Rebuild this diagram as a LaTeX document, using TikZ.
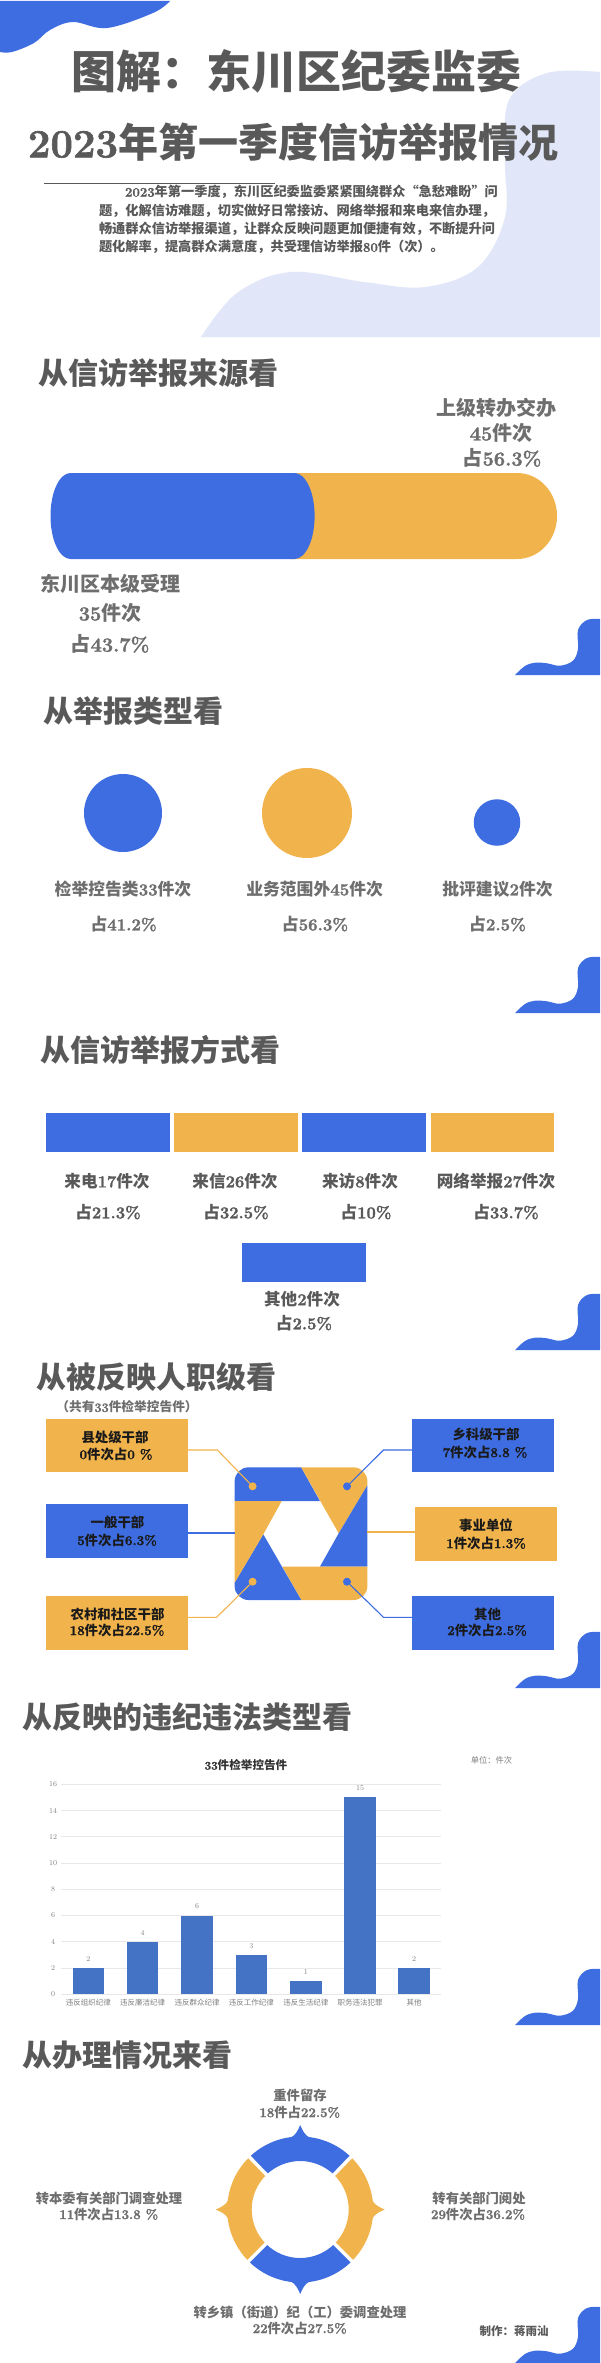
\documentclass[tikz,border=0pt]{standalone}
\usepackage{fontspec}
\newfontfamily\cjk{Noto Sans CJK SC}
\newfontfamily\numf[BoldFeatures={FakeBold=1.6}]{Latin Modern Roman}
\newcommand\D[1]{{\numf\bfseries #1}}
\newcommand\fs[1]{\fontsize{#1}{#1}\selectfont\cjk\bfseries}
\newcommand\fr[1]{\fontsize{#1}{#1}\selectfont\cjk}
\definecolor{bluec}{HTML}{3D6DE0}
\definecolor{orangec}{HTML}{F1B44C}
\definecolor{lightc}{HTML}{E1E7F9}
\definecolor{darkt}{HTML}{595959}
\definecolor{midt}{HTML}{6E6E6E}
\definecolor{barc}{HTML}{4472C4}
\definecolor{gridc}{HTML}{E8E8E8}
\definecolor{axt}{HTML}{808080}
\definecolor{boxt}{HTML}{1A1A1A}
\tikzset{
  base/.style={inner sep=0pt,outer sep=0pt,anchor=center},
  head/.style={base,font=\fs{30},text=darkt},
  lab/.style={base,font=\fs{20},text=midt},
  labs/.style={base,font=\fs{16.8},text=midt},
  labd/.style={base,font=\fs{16.6},text=darkt},
  boxlab/.style={base,font=\fs{13.4},text=boxt},
  ringlab/.style={base,font=\fs{13.3},text=midt},
  tick/.style={base,font=\fr{7.5},text=axt},
  ablock/.style={base,minimum width=123.5pt,minimum height=39pt},
  cbox/.style={base,minimum width=142pt,minimum height=54pt},
  dot/.style={base,circle,minimum size=8pt},
  conn/.style={line width=1.1pt},
}
\newcommand\cornerblob[1]{%
  \fill[bluec,shift={(515,#1)}] plot[smooth,tension=0.6] coordinates {(0,0) (10,-9) (20,-12.3) (32,-11.7) (45,-9.3) (58,-14.3) (63,-26.3) (63,-45) (72,-55) (85,-56)} -- (85,0) -- cycle;}
\begin{document}
\begin{tikzpicture}[x=1pt,y=-1pt]
\useasboundingbox (0,0) rectangle (600,2363);
\fill[white] (0,0) rectangle (600,2363);
% background shapes
\fill[lightc] plot[smooth,tension=0.6] coordinates {(201,337) (237,293) (291,272) (364,282) (425,287) (478,267) (505,217) (505,160) (509,100) (547,73) (600,72)} -- (600,337) -- cycle;
\fill[bluec] plot[smooth,tension=0.6] coordinates {(170,1) (153,13) (107,28) (73,22) (50,30) (34,43) (12,52) (0,52)} -- (0,1) -- cycle;
\cornerblob{675}
\cornerblob{1013}
\cornerblob{1350}
\cornerblob{1688}
\cornerblob{2025}
\cornerblob{2363}
% title
\node[base,font=\fs{45},text=darkt] (t1) at (296,71) {图解：东川区纪委监委};
\node[base,font=\fs{40},text=darkt] (t2) at (293,142) {\D{2023}年第一季度信访举报情况};
\draw[darkt,line width=0.9pt] (44,183) -- (275,183);
\node[base,anchor=west,align=left,text=darkt,font=\fontsize{13.2}{18.35}\selectfont\cjk\bfseries] (intro) at (99,219.5) {\hspace*{26pt}\D{2023}年第一季度，东川区纪委监委紧紧围绕群众“急愁难盼”问\\题，化解信访难题，切实做好日常接访、网络举报和来电来信办理，\\畅通群众信访举报渠道，让群众反映问题更加便捷有效，不断提升问\\题化解率，提高群众满意度，共受理信访举报\D{80}件（次）。};
% section 1
\node[head] (h1) at (158,373) {从信访举报来源看};
\fill[orangec] (290,473) -- (517,473) .. controls (539,473) and (557,492) .. (557,516) .. controls (557,540) and (539,559) .. (517,559) -- (290,559) -- cycle;
\fill[bluec] (70.5,473) -- (294.6,473) .. controls (305.6,473) and (314.6,492) .. (314.6,516) .. controls (314.6,540) and (305.6,559) .. (294.6,559) -- (70.5,559) .. controls (59.5,559) and (50.5,540) .. (50.5,516) .. controls (50.5,492) and (59.5,473) .. (70.5,473) -- cycle;
\node[lab] (s1a) at (496,408) {上级转办交办};
\node[lab] (s1b) at (501,433) {\D{45}件次};
\node[lab] (s1c) at (502,458) {占\D{56.3\%}};
\node[lab] (s1d) at (110.5,584) {东川区本级受理};
\node[lab] (s1e) at (110,613) {\D{35}件次};
\node[lab] (s1f) at (110,644) {占\D{43.7\%}};
% section 2
\node[head] (h2) at (133,711) {从举报类型看};
\node[base,circle,fill=bluec,minimum size=78pt] (c1) at (123,813) {};
\node[base,circle,fill=orangec,minimum size=90pt] (c2) at (307,813) {};
\node[base,circle,fill=bluec,minimum size=46.5pt] (c3) at (497,822.5) {};
\node[labs] (s2a) at (123,889) {检举控告类\D{33}件次};
\node[labs] (s2b) at (314.6,889) {业务范围外\D{45}件次};
\node[labs] (s2c) at (497.5,889) {批评建议\D{2}件次};
\node[labs] (s2d) at (123.6,924) {占\D{41.2\%}};
\node[labs] (s2e) at (315,924) {占\D{56.3\%}};
\node[labs] (s2f) at (497.5,924) {占\D{2.5\%}};
% section 3
\node[head] (h3) at (160,1050) {从信访举报方式看};
\node[ablock,fill=bluec] (m1) at (107.75,1132.5) {};
\node[ablock,fill=orangec] (m2) at (236.1,1132.5) {};
\node[ablock,fill=bluec] (m3) at (363.75,1132.5) {};
\node[ablock,fill=orangec] (m4) at (492.25,1132.5) {};
\node[ablock,fill=bluec] (m5) at (304,1262.5) {};
\node[labd] (s3a) at (107,1181) {来电\D{17}件次};
\node[labd] (s3b) at (235,1181) {来信\D{26}件次};
\node[labd] (s3c) at (360,1181) {来访\D{8}件次};
\node[labd] (s3d) at (496,1181) {网络举报\D{27}件次};
\node[labd] (s3e) at (108,1212) {占\D{21.3\%}};
\node[labd] (s3f) at (236,1212) {占\D{32.5\%}};
\node[labd] (s3g) at (366,1212) {占\D{10\%}};
\node[labd] (s3h) at (506,1212) {占\D{33.7\%}};
\node[labd] (s3i) at (302,1299) {其他\D{2}件次};
\node[labd] (s3j) at (304,1323) {占\D{2.5\%}};
% section 4
\node[head] (h4) at (156,1377) {从被反映人职级看};
\node[base,font=\fs{12.7},text=midt] (h4s) at (127,1407) {（共有\D{33}件检举控告件）};
\node[cbox,fill=orangec,minimum height=53pt] (lb1) at (117,1445.5) {};
\node[cbox,fill=bluec] (lb2) at (117,1531) {};
\node[cbox,fill=orangec] (lb3) at (117,1623) {};
\node[cbox,fill=bluec,minimum height=53pt] (rb1) at (483,1445.5) {};
\node[cbox,fill=orangec] (rb2) at (485.75,1534) {};
\node[cbox,fill=bluec] (rb3) at (483,1623) {};
\node[boxlab] (b1a) at (115,1437) {县处级干部};
\node[boxlab] (b1b) at (116,1454) {\D{0}件次占\D{0 \%}};
\node[boxlab] (b2a) at (117.5,1522) {一般干部};
\node[boxlab] (b2b) at (117,1540) {\D{5}件次占\D{6.3\%}};
\node[boxlab] (b3a) at (117.5,1614) {农村和社区干部};
\node[boxlab] (b3b) at (117,1630) {\D{18}件次占\D{22.5\%}};
\node[boxlab] (b4a) at (486,1434) {乡科级干部};
\node[boxlab] (b4b) at (485,1452) {\D{7}件次占\D{8.8 \%}};
\node[boxlab] (b5a) at (486,1525) {事业单位};
\node[boxlab] (b5b) at (486,1543) {\D{1}件次占\D{1.3\%}};
\node[boxlab] (b6a) at (487.5,1614) {其他};
\node[boxlab] (b6b) at (487,1630) {\D{2}件次占\D{2.5\%}};
\begin{scope}
\clip[rounded corners=14pt] (234.6,1467.3) rectangle (367.4,1600);
\fill[bluec] (234.6,1467.3) -- (301.2,1467.3) -- (319.9,1501) -- (234.6,1501) -- cycle;
\fill[orangec] (301.2,1467.3) -- (367.4,1467.3) -- (367.4,1485.3) -- (338.7,1533.3) -- cycle;
\fill[bluec] (367.4,1485.3) -- (367.4,1566.7) -- (319.9,1566.7) -- (338.7,1533.3) -- cycle;
\fill[orangec] (367.4,1566.7) -- (367.4,1600) -- (301.2,1600) -- (282.4,1566.7) -- cycle;
\fill[bluec] (301.2,1600) -- (234.6,1600) -- (234.6,1582.7) -- (263.3,1534.3) -- cycle;
\fill[orangec] (234.6,1501) -- (281.7,1501) -- (263.3,1534.3) -- (234.6,1582.7) -- cycle;
\end{scope}
\node[dot,fill=orangec] (d1) at (252.6,1486.3) {};
\node[dot,fill=bluec] (d2) at (347,1486.3) {};
\node[dot,fill=orangec] (d3) at (252.6,1581.7) {};
\node[dot,fill=bluec] (d4) at (347,1581.7) {};
\coordinate (e1) at (217.4,1450);
\coordinate (e2) at (383.5,1450);
\coordinate (e3) at (216.6,1617.3);
\coordinate (e4) at (383.5,1617.3);
\coordinate (w1) at (234.6,1533);
\coordinate (w2) at (367.4,1532);
\draw[conn,orangec] (lb1.east |- e1) -- (e1) -- (d1);
\draw[conn,bluec] (rb1.west |- e2) -- (e2) -- (d2);
\draw[conn,orangec] (lb3.east |- e3) -- (e3) -- (d3);
\draw[conn,bluec] (rb3.west |- e4) -- (e4) -- (d4);
\draw[conn,bluec] (lb2.east |- w1) -- (w1);
\draw[conn,orangec] (w2) -- (rb2.west |- w2);
% section 5
\node[head] (h5) at (188,1717) {从反映的违纪违法类型看};
\node[base,font=\fs{11.6},text=black!80] (ct) at (246,1765) {\D{33}件检举控告件};
\node[base,font=\fr{8.3},text=axt] (unit) at (491.5,1760) {单位：件次};
\foreach \v in {0,2,...,16}{
  \pgfmathsetmacro\yy{1994.3-\v*13.125}
  \draw[gridc,line width=0.9pt] (61,\yy) -- (441,\yy);
  \node[tick,font=\rmfamily\fontsize{7.5}{7.5}\selectfont] (yt\v) at (53,\yy) {\v};
}
\foreach \n/\xx/\val/\txt in {1/88.4/2/违反组织纪律,2/142.7/4/违反廉洁纪律,3/197/6/违反群众纪律,4/251.4/3/违反工作纪律,5/305.8/1/违反生活纪律,6/360/15/职务违法犯罪,7/414/2/其他}{
  \pgfmathsetmacro\yy{1994.3-\val*13.125}
  \pgfmathsetmacro\yt{\yy-9}
  \fill[barc] (\xx-15.7,\yy) rectangle (\xx+15.7,1994.3);
  \node[tick,font=\rmfamily\fontsize{7.5}{7.5}\selectfont] (bv\n) at (\xx,\yt) {\val};
  \node[tick] (bl\n) at (\xx,2003) {\txt};
}
% section 6
\node[head] (h6) at (128,2055) {从办理情况来看};
\begin{scope}[shift={(300.2,2209.5)},y=1pt]
\foreach \ang/\col in {0/bluec,90/orangec,180/bluec,270/orangec}{
  \begin{scope}[rotate=\ang]
  \fill[\col] (45:73pt) arc[start angle=45,end angle=135,radius=73pt] -- (135:48.5pt) arc[start angle=135,end angle=45,radius=48.5pt] -- cycle;
  \fill[\col] (-10,71.5) .. controls (-4,74.5) and (-2,80) .. (0,84.5) .. controls (2,80) and (4,74.5) .. (10,71.5) -- cycle;
  \end{scope}
}
\foreach \ang in {46,134,225,315}{
  \draw[white,line width=3.4pt] (\ang:44pt) -- (\ang:78pt);
}
\end{scope}
\node[ringlab] (r1a) at (300,2095) {重件留存};
\node[ringlab] (r1b) at (299.7,2112) {\D{18}件占\D{22.5\%}};
\node[ringlab] (r2a) at (479,2198) {转有关部门阅处};
\node[ringlab] (r2b) at (478,2214) {\D{29}件次占\D{36.2\%}};
\node[ringlab] (r3a) at (109,2198) {转本委有关部门调查处理};
\node[ringlab] (r3b) at (108.7,2214) {\D{11}件次占\D{13.8 \%}};
\node[ringlab] (r4a) at (300,2312) {转乡镇（街道）纪（工）委调查处理};
\node[ringlab] (r4b) at (299.7,2328) {\D{22}件次占\D{27.5\%}};
\node[base,font=\fs{11.5},text=darkt] (credit) at (514,2331) {制作：蒋雨汕};
\end{tikzpicture}
\end{document}
